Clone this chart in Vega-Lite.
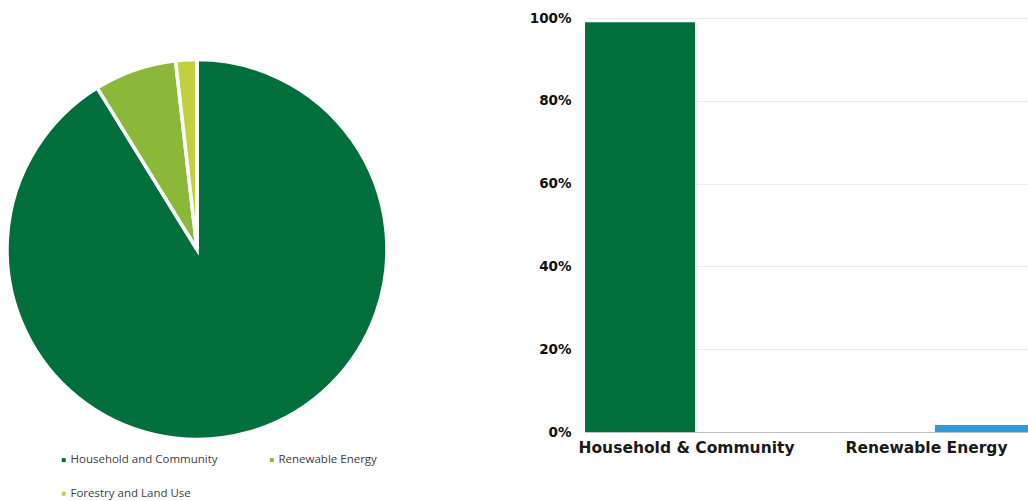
{
  "$schema": "https://vega.github.io/schema/vega-lite/v6.json",
  "padding": {"left": 0, "top": 11, "right": 0, "bottom": 0},
  "background": "white",
  "bounds": "flush",
  "spacing": 191,
  "config": {"view": {"stroke": null}},
  "resolve": {"scale": {"color": "independent"}},
  "hconcat": [
    {
      "width": 394,
      "height": 463,
      "data": {
        "values": [
          {"sector": "Household and Community", "share": 91.2, "ord": 1},
          {"sector": "Renewable Energy", "share": 7.0, "ord": 2},
          {"sector": "Forestry and Land Use", "share": 1.8, "ord": 3}
        ]
      },
      "mark": {"type": "arc", "outerRadius": 190, "stroke": "white", "strokeWidth": 3.5},
      "encoding": {
        "theta": {"field": "share", "type": "quantitative", "stack": true},
        "order": {"field": "ord", "type": "quantitative"},
        "color": {
          "field": "sector",
          "type": "nominal",
          "scale": {
            "domain": ["Household and Community", "Forestry and Land Use", "Renewable Energy"],
            "range": ["#006f3c", "#c2d03e", "#8cb83a"]
          },
          "legend": {
            "title": null,
            "orient": "none",
            "legendX": 58,
            "legendY": 436,
            "columns": 2,
            "symbolType": "square",
            "symbolSize": 16,
            "symbolStrokeWidth": 0,
            "labelFont": "Open Sans",
            "labelFontSize": 11.5,
            "labelColor": "#404040",
            "columnPadding": 48,
            "rowPadding": 21,
            "labelOffset": 1,
            "padding": 0,
            "labelLimit": 300
          }
        }
      }
    },
    {
      "width": 443,
      "height": 414,
      "data": {
        "values": [
          {"category": "Household & Community", "series": "Household", "value": 0.99},
          {"category": "Household & Community", "series": "Renewable", "value": 0},
          {"category": "Renewable Energy", "series": "Household", "value": 0},
          {"category": "Renewable Energy", "series": "Renewable", "value": 0.017}
        ]
      },
      "mark": {"type": "bar", "clip": true},
      "encoding": {
        "x": {
          "field": "category",
          "type": "nominal",
          "sort": null,
          "scale": {"paddingInner": 0.154, "paddingOuter": 0},
          "axis": {
            "title": null,
            "labelAngle": 0,
            "labelFont": "DejaVu Sans",
            "labelFontWeight": "bold",
            "labelFontSize": 15.5,
            "labelColor": "#1a1a1a",
            "labelLimit": 400,
            "labelDx": 4,
            "ticks": false,
            "domain": false,
            "labelPadding": 8
          }
        },
        "xOffset": {
          "field": "series",
          "type": "nominal",
          "sort": null,
          "scale": {"domain": ["Household", "Renewable"], "range": [0, 220]}
        },
        "y": {
          "field": "value",
          "type": "quantitative",
          "stack": null,
          "scale": {"domain": [0, 1]},
          "axis": {
            "title": null,
            "format": ".0%",
            "values": [0, 0.2, 0.4, 0.6, 0.8, 1],
            "grid": true,
            "gridColor": {"condition": {"test": "datum.value === 0", "value": "#c0c0c0"}, "value": "#ebebeb"},
            "domain": false,
            "ticks": false,
            "labelPadding": 14,
            "labelFont": "DejaVu Sans",
            "labelFontWeight": "bold",
            "labelFontSize": 13.5,
            "labelColor": "#111111"
          }
        },
        "color": {
          "field": "series",
          "type": "nominal",
          "scale": {"domain": ["Household", "Renewable"], "range": ["#006f3c", "#3399d6"]},
          "legend": null
        }
      }
    }
  ]
}
